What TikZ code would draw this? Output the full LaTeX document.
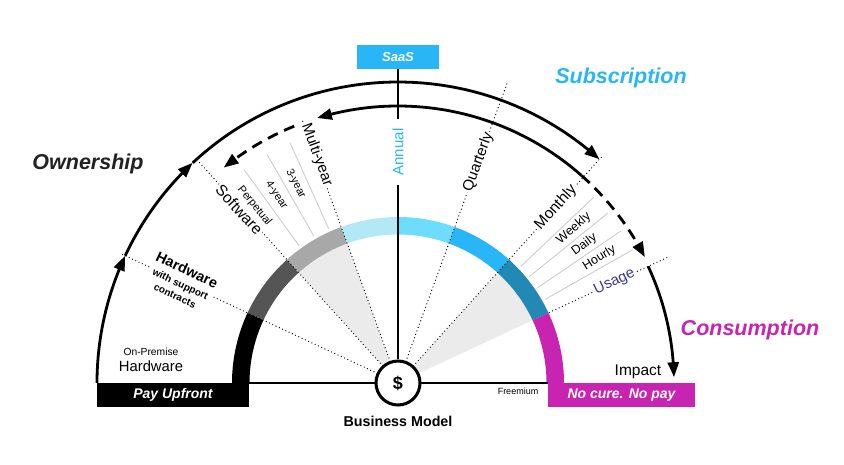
\documentclass[tikz,border=0pt]{standalone}
\usepackage{fontspec}
\setmainfont{Liberation Sans}
\usetikzlibrary{arrows.meta,bending}
\definecolor{bandA}{HTML}{000000}
\definecolor{bandB}{HTML}{555555}
\definecolor{bandC}{HTML}{A8A8A8}
\definecolor{bandD}{HTML}{B3E9F7}
\definecolor{bandE}{HTML}{6DDCFD}
\definecolor{sky}{HTML}{29B6F6}
\definecolor{teal}{HTML}{2189B4}
\definecolor{mag}{HTML}{C724B1}
\definecolor{wedgegray}{HTML}{EBEBEB}
\definecolor{usagecol}{HTML}{3F3A8C}
\definecolor{inkdark}{HTML}{222222}
\begin{document}
\begin{tikzpicture}[x=1pt,y=1pt,
  arr/.style={line width=2.8pt,-{Triangle[length=15pt,width=11pt,bend]}},
  dashedarr/.style={arr,dash pattern=on 11pt off 7pt},
  dotl/.style={line width=1.3pt,dash pattern=on 0pt off 3.6pt,line cap=round},
  glin/.style={draw=black!20,line width=0.9pt},
  ontext/.style={fill=white,inner sep=1.5pt},
  big/.style={font=\fontsize{21.5}{24}\selectfont\bfseries\itshape},
  fanL/.style={font=\fontsize{11}{12}\selectfont},
  fanR/.style={font=\fontsize{12.5}{14}\selectfont},
  lab/.style={font=\fontsize{15}{17}\selectfont}
]
\useasboundingbox (0,0) rectangle (844,464);
\begin{scope}[shift={(398,81)}]
  % grey wedges
  \fill[wedgegray] (0,0) -- (110:149) arc[start angle=110,end angle=132,radius=149] -- cycle;
  \fill[wedgegray] (0,0) -- (25:149) arc[start angle=25,end angle=48,radius=149] -- cycle;
  % colour band
  \foreach \a/\b/\c in {180/155/bandA,155/132/bandB,132/110/bandC,110/90/bandD,90/70/bandE,70/48/sky,48/25/teal,25/0/mag}{
    \fill[\c] (\a:148.5) arc[start angle=\a,end angle=\b,radius=148.5] -- (\b:166) arc[start angle=\b,end angle=\a,radius=166] -- cycle;
  }
  % dotted radial lines
  \draw[dotl] (155:23) -- (155:305);
  \draw[dotl] (132:23) -- (132:300);
  \draw[dotl] (110:23) -- (110:281);
  \draw[dotl] (70:23) -- (70:320);
  \draw[dotl] (48:23) -- (48:307);
  \draw[dotl] (25:167) -- (25:298);
  % thin grey fan lines
  \foreach \a in {114.2,119.8,125.8}{\draw[glin] (\a:169) -- (\a:263);}
  \foreach \a in {43.5,39,34.3,29.6}{\draw[glin] (\a:169) -- (\a:270);}
  % baseline
  \coordinate (bl) at (-149,0);
  \coordinate (br) at (150,0);
  \draw[line width=2pt] (bl) -- (br);
  % vertical SaaS line
  \node[fill=sky,minimum width=82pt,minimum height=24pt,inner sep=0pt,text=white,
        font=\fontsize{13}{15}\selectfont\bfseries\itshape] (saas) at (0,326) {SaaS};
  \node[circle,draw=black,line width=3pt,fill=white,minimum size=44pt,inner sep=0pt,
        font=\fontsize{18}{20}\selectfont\bfseries] (dollar) at (0,0) {\$};
  \node[lab,text=sky,fill=white,rotate=90,inner xsep=9pt,inner ysep=1pt] (annual) at (90:231) {Annual};
  \draw[line width=2pt] (dollar.north) -- (annual.west);
  \draw[line width=2pt] (annual.east) -- (saas.south);
  % outer ownership arcs
  \draw[arr] (180:301) arc[start angle=180,end angle=155,radius=301];
  \draw[arr] (155:301) arc[start angle=155,end angle=133,radius=301];
  \draw[arr] (133:301) arc[start angle=133,end angle=48,radius=301];
  % inner subscription arcs
  \draw[arr] (48.5:277) arc[start angle=48.5,end angle=107,radius=277];
  \draw[dashedarr] (112:277) arc[start angle=112,end angle=129,radius=277];
  \draw[dashedarr] (48.5:277) arc[start angle=48.5,end angle=27,radius=277];
  \draw[arr] (25:276) arc[start angle=25,end angle=1.2,radius=276];
  % texts on the radial lines
  \node[ontext,align=center,rotate=-25,font=\fontsize{14.5}{15}\selectfont\bfseries] (hw) at (155:239)
     {Hardware\\[-1pt]{\fontsize{10}{11}\selectfont with support}\\[-2pt]{\fontsize{10}{11}\selectfont contracts}};
  \node[ontext,lab,font=\fontsize{15.5}{17}\selectfont,rotate=-47.5] (sw) at (132.5:235) {Software};
  \node[fanL,rotate=-51] (perp) at (129:228) {Perpetual};
  \node[fanL,rotate=-57] (y4) at (122.9:224) {4-year};
  \node[fanL,rotate=-62.7] (y3) at (117.2:224) {3-year};
  \node[ontext,lab,rotate=-70] (multi) at (109.6:242) {Multi-year};
  \node[ontext,lab,rotate=70] (quart) at (70:235) {Quarterly};
  \node[ontext,lab,font=\fontsize{15.5}{17}\selectfont,rotate=48] (month) at (48:236) {Monthly};
  \node[fanR,rotate=41.3] (week) at (41.3:234) {Weekly};
  \node[fanR,rotate=36.6] (day) at (36.6:232) {Daily};
  \node[fanR,rotate=31.8] (hour) at (31.8:237) {Hourly};
  \node[ontext,lab,text=usagecol,rotate=25] (usage) at (25:239) {Usage};
  % bottom boxes
  \node[fill=black,text=white,minimum width=152pt,minimum height=24.5pt,inner sep=0pt,
        font=\fontsize{14}{16}\selectfont\bfseries\itshape] (pay) at (-225,-11.75) {Pay Upfront};
  \node[fill=mag,text=white,minimum width=147pt,minimum height=24.5pt,inner sep=0pt,
        font=\fontsize{14}{16}\selectfont\bfseries\itshape] (nocure) at (223.5,-11.75) {No cure. No pay};
\end{scope}
% free labels
\node[big,text=inkdark] (own) at (88,300) {Ownership};
\node[big,text=sky] (sub) at (621,386) {Subscription};
\node[big,text=mag] (cons) at (750,134) {Consumption};
\node[font=\fontsize{15.5}{17}\selectfont] (impact) at (638,92.5) {Impact};
\node[font=\fontsize{9}{10}\selectfont] (free) at (518,73) {Freemium};
\node[font=\fontsize{10.3}{12}\selectfont] (onprem) at (151,112) {On-Premise};
\node[font=\fontsize{14.8}{16}\selectfont] (hwplain) at (151,98) {Hardware};
\node[font=\fontsize{14.3}{16}\selectfont\bfseries] (bm) at (398,43) {Business Model};
\end{tikzpicture}
\end{document}
